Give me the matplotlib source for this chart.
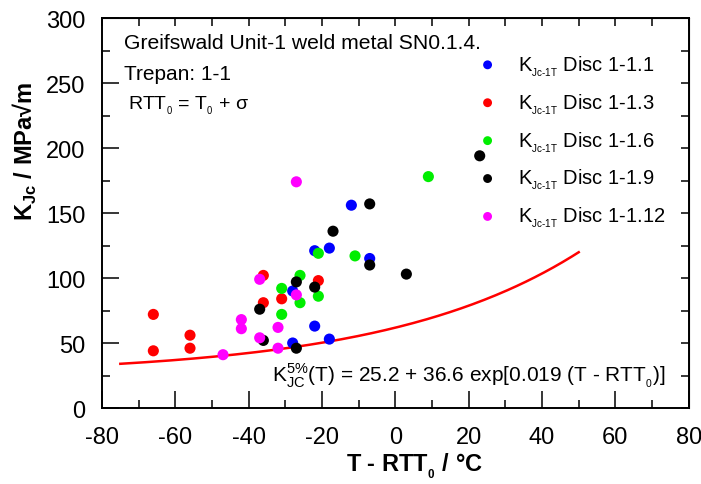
import numpy as np
import matplotlib
matplotlib.use("Agg")
import matplotlib.pyplot as plt
from matplotlib.ticker import MultipleLocator

plt.rcParams['font.family'] = ['Liberation Sans', 'DejaVu Sans']
plt.rcParams['mathtext.fontset'] = 'custom'
plt.rcParams['mathtext.rm'] = 'Liberation Sans'
plt.rcParams['mathtext.bf'] = 'Liberation Sans:bold'
plt.rcParams['axes.unicode_minus'] = False

# K_Jc-1T values per disc, (T - RTT0 in degC, K_Jc in MPa sqrt(m))
disc_1_1_t = [-12, -22, -18, -7, -28, -22, -18, -28]
disc_1_1_k = [156, 121, 123, 115, 90, 63, 53, 50]

disc_1_3_t = [-66, -66, -56, -56, -36, -36, -31, -21]
disc_1_3_k = [72, 44, 56, 46, 102, 81, 84, 98]

disc_1_6_t = [9, -21, -11, -26, -21, -26, -31, -31]
disc_1_6_k = [178, 119, 117, 102, 86, 81, 92, 72]

disc_1_9_t = [23, -7, -17, -7, 3, -27, -22, -37, -36, -27]
disc_1_9_k = [194, 157, 136, 110, 103, 97, 93, 76, 52, 46]

disc_1_12_t = [-27, -37, -42, -42, -32, -37, -47, -32, -27]
disc_1_12_k = [174, 99, 68, 61, 62, 54, 41, 46, 87]

disc_names = ["1-1.1", "1-1.3", "1-1.6", "1-1.9", "1-1.12"]
disc_colors = ["#0000ff", "#ff0000", "#00ee00", "#000000", "#ff00ff"]

# 5% lower bound master curve
curve_a, curve_b, curve_c = 25.2, 36.6, 0.019
curve_t = np.linspace(-75, 50, 200)
curve_k = curve_a + curve_b * np.exp(curve_c * curve_t)

fig = plt.figure(figsize=(7.01, 4.85), dpi=100)
ax = fig.add_axes([0.1455, 0.1567, 0.8370, 0.8041])

series = [(disc_1_1_t, disc_1_1_k), (disc_1_3_t, disc_1_3_k),
          (disc_1_6_t, disc_1_6_k), (disc_1_9_t, disc_1_9_k),
          (disc_1_12_t, disc_1_12_k)]
handles = []
for (t, k), name, col in zip(series, disc_names, disc_colors):
    sc = ax.scatter(t, k, s=64, color=col, edgecolors='none', zorder=3,
                    label=r"K$_{_{\text{Jc-1T}}}$ Disc " + name)
    handles.append(sc)

ax.plot(curve_t, curve_k, color='#ff0000', lw=1.8, zorder=2)

ax.set_xlim(-80, 80)
ax.set_ylim(0, 300)
ax.xaxis.set_major_locator(MultipleLocator(20))
ax.xaxis.set_minor_locator(MultipleLocator(10))
ax.yaxis.set_major_locator(MultipleLocator(50))
ax.yaxis.set_minor_locator(MultipleLocator(25))
ax.tick_params(which='both', direction='in', width=1.1, labelsize=17)
ax.tick_params(which='major', length=12)
ax.tick_params(which='minor', length=6)
ax.tick_params(axis='x', pad=13)
ax.tick_params(axis='y', pad=12)
for sp in ax.spines.values():
    sp.set_linewidth(1.4)

# short ticks along the top and right edges
top = ax.secondary_xaxis('top')
top.xaxis.set_major_locator(MultipleLocator(10))
top.tick_params(direction='in', length=6, width=1.1, labeltop=False)
right = ax.secondary_yaxis('right')
right.yaxis.set_major_locator(MultipleLocator(25))
right.tick_params(direction='in', length=6, width=1.1, labelright=False)

ax.set_xlabel(r"T - RTT$_{_{\mathbf{0}}}$ / °C", fontsize=17, fontweight='bold')
ax.xaxis.set_label_coords(0.532, -0.11)
ax.set_ylabel(r"K$_{\mathbf{Jc}}$ / MPa√m", fontsize=17, fontweight='bold')
ax.yaxis.set_label_coords(-0.108, 0.66)

ax.text(0.0375, 0.936, "Greifswald Unit-1 weld metal SN0.1.4.", transform=ax.transAxes,
        fontsize=15.2, va='center', ha='left')
ax.text(0.0375, 0.859, "Trepan: 1-1", transform=ax.transAxes,
        fontsize=15, va='center', ha='left')
ax.text(0.044, 0.777, r"RTT$_{_{\mathregular{0}}}$ = T$_{_{\mathregular{0}}}$ + σ",
        transform=ax.transAxes, fontsize=14, va='center', ha='left')
ax.text(0.29, 0.085,
        r"K$_{\mathregular{JC}}^{\mathregular{5\%}}$(T) = 25.2 + 36.6 exp[0.019 (T - RTT$_{_{\mathregular{0}}}$)]",
        transform=ax.transAxes, fontsize=15, va='center', ha='left')

ax.legend(handles=handles, loc='upper left', bbox_to_anchor=(0.64, 0.91),
          frameon=False, fontsize=14.5, markerscale=0.8, handlelength=1.0,
          handletextpad=1.0, labelspacing=0.66, borderaxespad=0, borderpad=0)

fig.savefig("out.png", dpi=100)
